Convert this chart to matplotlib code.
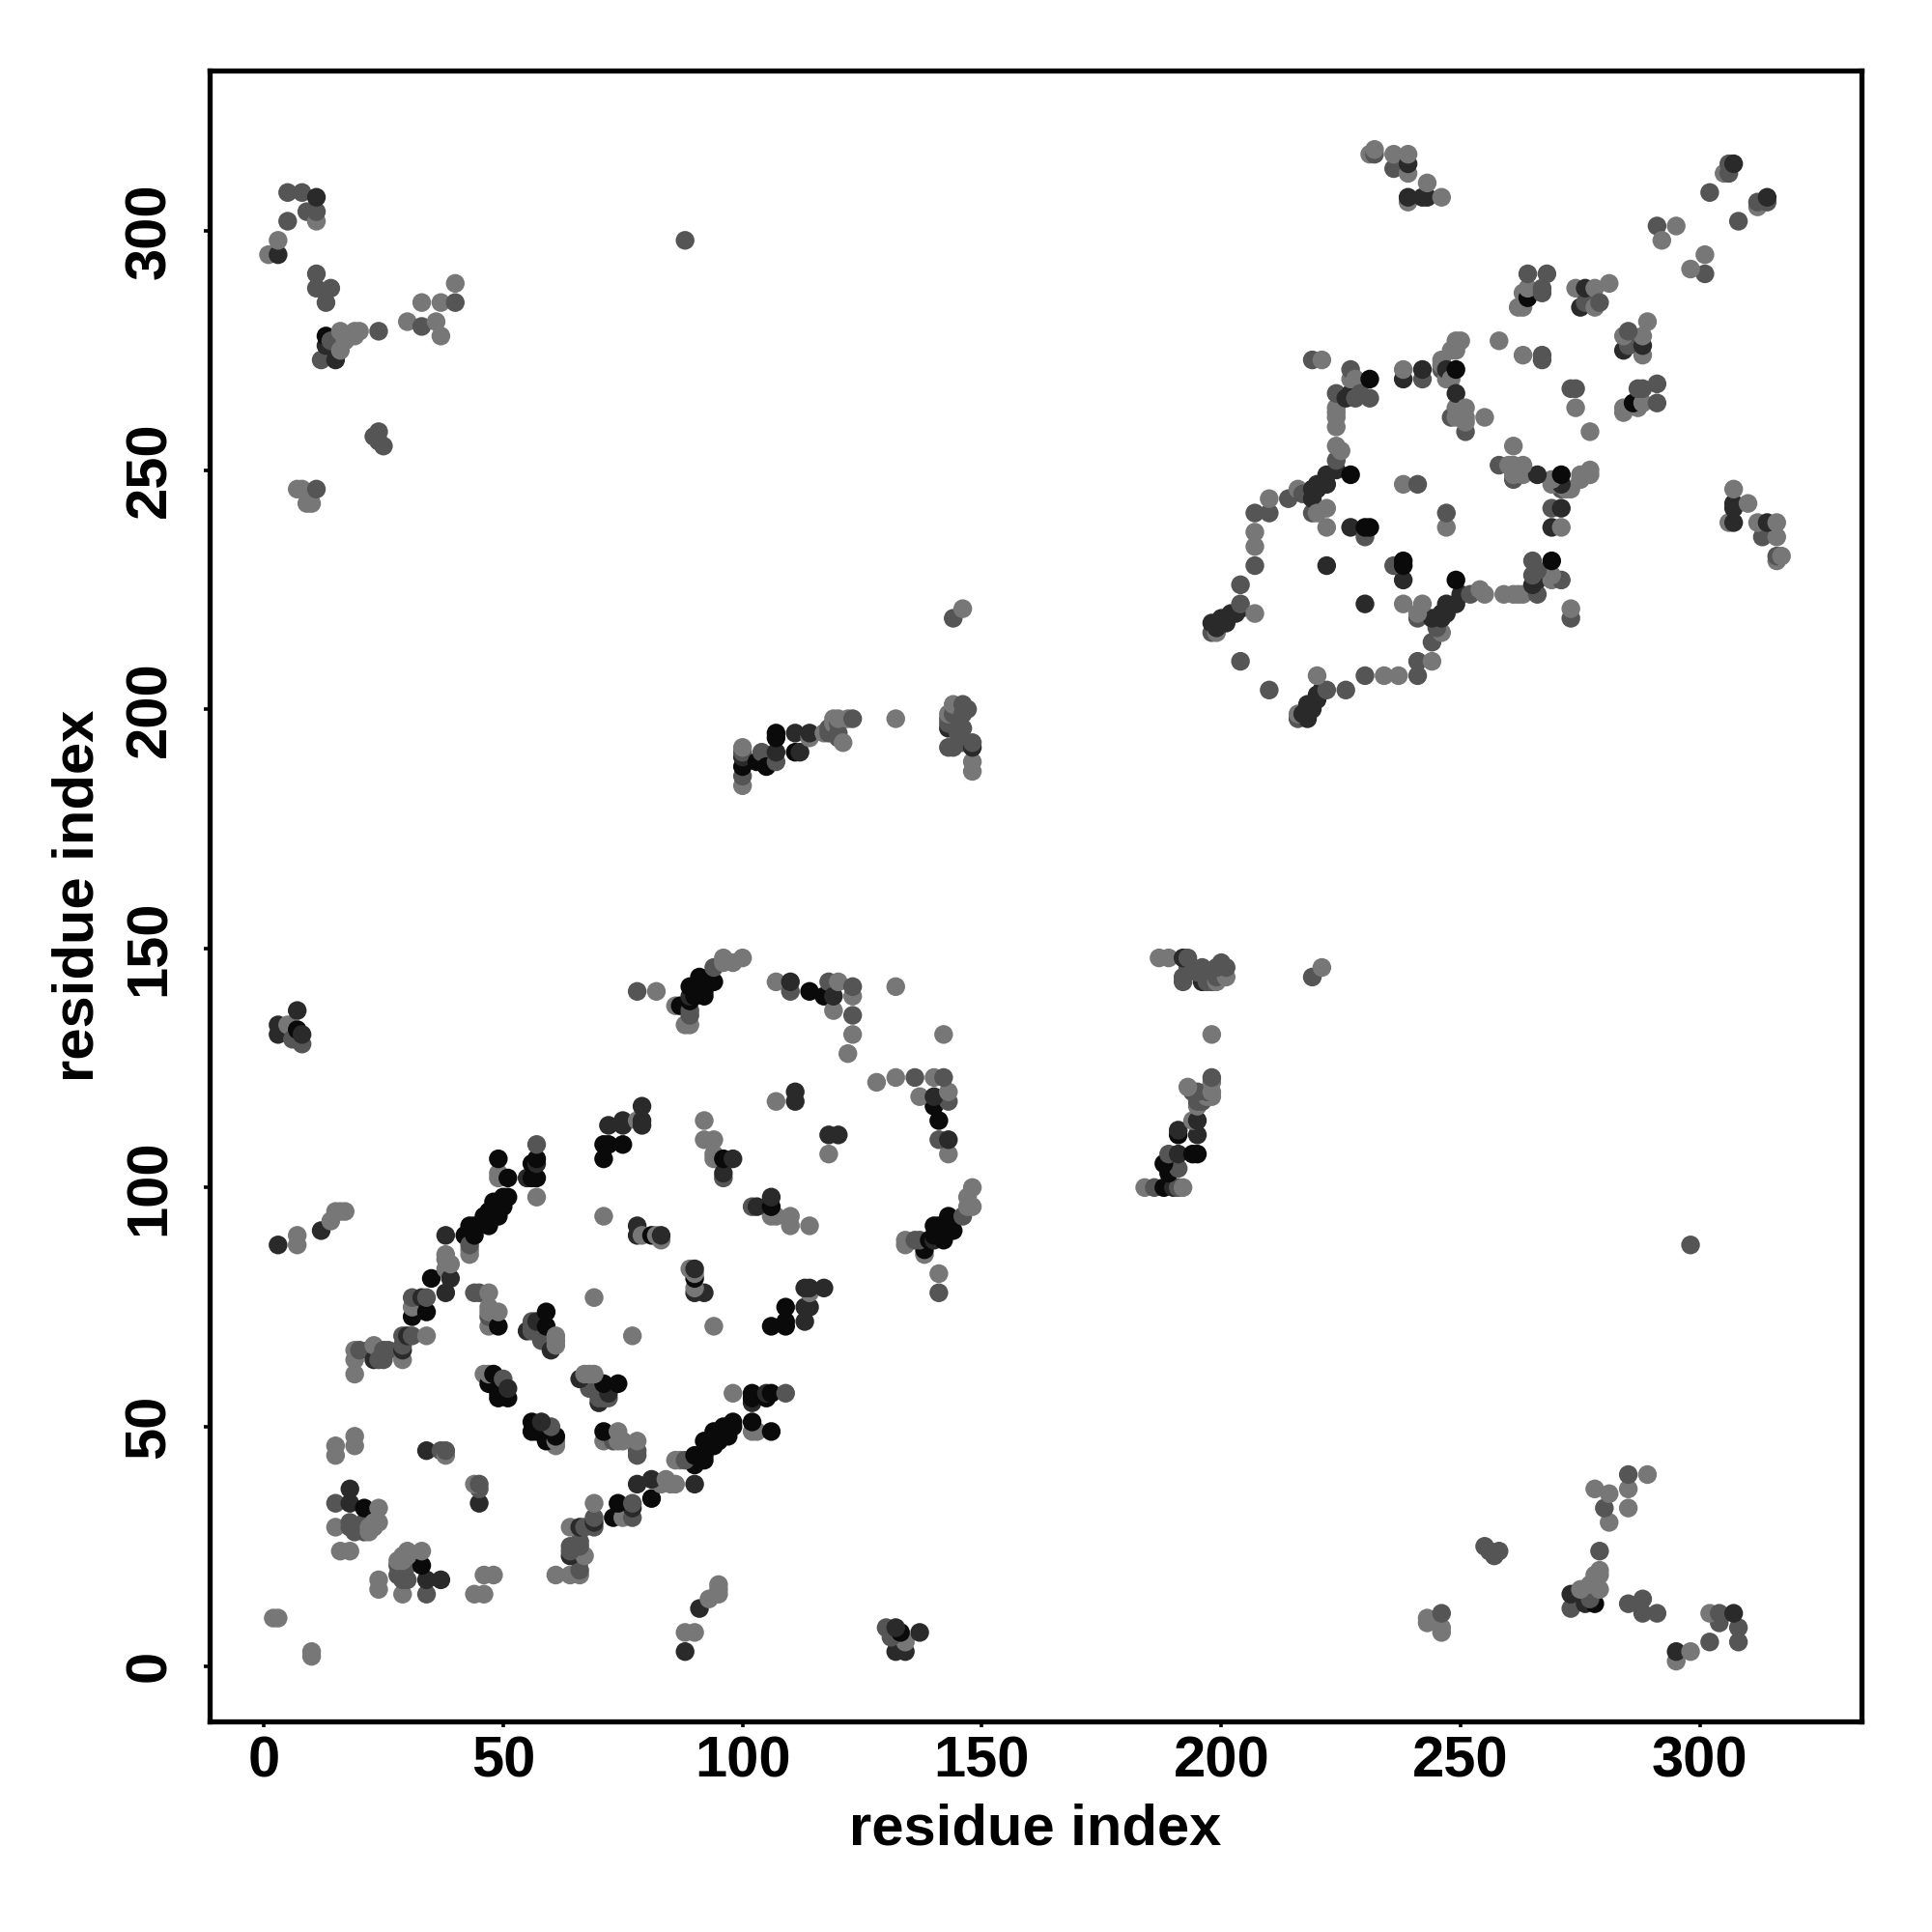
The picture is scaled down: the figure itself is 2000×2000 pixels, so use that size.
import matplotlib
matplotlib.use("Agg")
import matplotlib.pyplot as plt

plt.rcParams['font.family'] = ['Liberation Sans', 'DejaVu Sans']

# residue contacts (i, j), drawn on both sides of the diagonal, grouped by grey level
contacts_light = [
 (2,10),(3,10),(7,90),(7,88),(16,95),(17,95),(43,87),(38,85),(39,84),(31,75),(34,69),(29,64),(19,66),(19,64),(23,67),
 (47,78),(47,74),(49,74),(47,71),(61,68),(61,67),(47,61),(61,68),(61,69),(46,61),(49,74),(47,75),(47,78),(19,48),(15,46),(19,46),(15,44),
 (38,44),(24,33),(15,29),(22,29),(24,30),(16,24),(18,24),(18,24),(23,30),(24,33),(15,29),(15,44),(19,46),(19,48),(19,61),(19,64),(19,46),(19,48),
 (38,83),(38,86),(43,86),(49,103),(83,89),(71,94),(69,77),(71,94),(90,82),(92,114),(92,110),(94,106),(94,107),(92,114),(57,98),(49,102),
 (82,141),(86,138),(89,134),(96,148),(98,147),(100,148),(107,143),(120,143),(123,140),(119,137),(122,128),(128,122),(140,123),(137,119),(143,120),(143,107),
 (118,107),(110,94),(92,114),(114,78),(90,79),(141,82),(134,88),(138,86),(147,96),(148,96),(148,100),(103,49),
 (100,192),(100,184),(114,194),(117,195),(119,198),(121,193),(132,198),(143,199),(148,189),(148,187),(144,201),(146,221),(132,142),(123,132),
 (100,192),(148,189),(5,134),(88,7),(93,14),(95,15),(95,17),(120,198),(119,197),(122,198),
 (1,295),(3,298),(11,302),(16,275),(17,277),(19,279),(20,279),(16,279),(30,281),(33,285),(36,281),(37,278),(37,285),(40,289),(18,278),(17,278),(19,278),
 (7,246),(8,246),(9,243),(10,243),(22,28),(23,29),
 (199,216),(207,220),(207,234),(207,237),(210,244),(220,241),(222,242),(222,238),(225,254),(224,255),(224,259),(224,262),(224,263),
 (238,222),(242,222),(254,225),(255,224),(259,224),(261,224),(263,224),(269,227),(273,221),(246,216),(244,210),(237,207),(234,207),(220,207),
 (271,238),(261,255),(260,251),(269,248),(273,246),(275,249),(277,250),(247,238),
 (307,246),(310,243),(306,239),(312,239),(316,239),(316,236),(317,232),
 (221,273),(228,269),(238,271),(246,272),(248,275),(249,277),(247,269),(249,263),(251,263),(249,261),(251,261),(255,261),
 (258,277),(263,274),(274,263),(277,258),(264,288),(263,284),(262,284),(274,288),(278,288),(281,289),(278,284),
 (289,281),(288,278),(288,274),(287,263),(284,263),(284,262),(231,316),(239,312),(239,306),(305,312),(295,301),(298,292),
]
contacts_mid = [
 (14,93),(43,88),(57,109),(29,69),(31,69),(29,67),(19,61),(20,66),(25,66),(45,78),(47,73),(56,71),(56,70),
 (50,60),(68,58),(72,56),(71,47),(78,44),(37,45),(38,45),(45,38),(15,34),(18,29),(21,30),(24,16),(30,21),(30,18),(34,15),(46,15),
 (66,19),(64,24),(66,26),(66,22),(64,25),(69,29),(77,31),(77,34),(98,57),(20,29),(19,28),(21,28),
 (78,141),(89,136),(94,146),(110,141),(118,143),(123,142),(123,136),(142,132),(132,123),(136,123),(142,123),(143,118),
 (107,118),(96,102),(102,96),(110,92),(141,78),(134,89),(137,89),(146,94),(118,196),
 (100,186),(104,191),(107,189),(118,195),(120,197),(120,195),(143,197),(144,192),(144,199),(146,201),(145,195),(147,200),(146,193),(144,219),
 (146,196),(143,198),(146,199),(148,193),(143,192),(186,100),(191,100),(194,120),(198,123),
 (8,130),(6,131),(90,7),(14,277),(15,277),
 (5,302),(5,308),(8,308),(9,304),(11,304),(11,291),(11,288),(14,288),(13,285),(12,273),(24,279),(33,280),(40,285),
 (24,256),(24,258),(25,255),(23,257),(11,246),(88,298),
 (216,198),(204,222),(204,226),(207,230),(207,241),(210,241),(214,244),(217,245),(224,266),(230,236),
 (238,247),(241,247),(247,241),(241,219),(252,224),(266,224),(271,227),(265,231),(266,229),(273,219),
 (244,214),(241,210),(241,207),(230,207),(226,204),(210,204),(204,210),
 (269,242),(258,251),(263,251),(261,248),(263,249),(271,246),(313,236),(316,231),
 (227,271),(228,265),(231,265),(242,269),(251,258),(267,274),(267,273),(274,267),
 (264,291),(268,291),(267,288),(276,285),(279,285),(285,279),(284,278),(287,267),(291,268),(291,264),
 (291,301),(301,291),(301,295),(302,308),(306,314),(312,306),(232,316),(236,316),(236,313),(239,316),(243,310),(246,307),
]
contacts_dark = [
 (3,88),(12,91),(38,90),(39,81),(38,78),(31,77),(33,77),(25,64),(23,64),(60,66),(51,58),(60,50),(66,60),(70,55),(72,57),
 (34,45),(45,34),(18,37),(18,34),(28,21),(28,19),(37,18),(66,29),(69,30),(81,39),(90,38),(90,82),(83,90),(78,90),
 (86,138),(89,140),(110,143),(119,140),(111,120),(111,118),(120,111),(141,110),(143,110),
 (94,110),(98,106),(96,103),(106,98),(103,96),(110,94),(92,78),(113,72),(114,75),(113,79),(114,79),(117,79),
 (79,117),(79,113),(72,113),(75,113),(105,57),(109,57),(102,55),(96,102),
 (90,78),(100,190),(107,191),(111,195),(112,191),(114,195),(123,198),(148,192),(143,196),(193,148),(196,143),(191,107),
 (7,137),(3,134),(3,132),(8,132),(91,12),(88,3),(13,276),
 (3,295),(11,307),(15,273),(14,276),(198,218),(200,219),(202,220),(219,246),(220,247),(222,249),(224,250),
 (222,230),(238,227),(230,222),(244,219),(246,220),(247,222),(250,224),(266,227),(227,238),(271,242),(269,238),
 (218,201),(217,199),(221,204),(220,203),(266,249),(307,243),(307,239),(314,239),
 (219,273),(226,265),(238,269),(242,271),(247,271),(249,266),(288,276),(284,275),
 (239,314),(242,307),(308,302),(314,307),(307,314),
]
contacts_black = [
 (49,106),(57,106),(56,105),(57,102),(56,102),(51,102),(51,98),(50,97),(48,97),(47,95),(46,94),(44,92),(43,92),(42,90),
 (35,81),(31,73),(34,74),(49,71),(59,74),(59,71),(48,61),(47,59),(49,56),(51,56),(71,59),(74,59),
 (57,50),(57,49),(61,48),(59,47),(71,49),(21,33),(33,21),(34,18),(73,31),(74,34),(81,35),(78,38),
 (90,44),(92,44),(92,47),(94,47),(94,49),(98,50),(96,50),(102,51),(106,49),(102,57),(106,57),
 (90,81),(78,92),(72,109),(75,109),(71,106),(96,106),
 (86,138),(91,141),(91,144),(94,143),(92,140),(114,141),(117,140),(140,119),(140,117),(141,114),(118,111),
 (106,94),(106,71),(109,71),(109,75),(138,87),(140,90),(141,92),(143,93),(143,91),(142,89),(139,89),
 (100,188),(105,188),(107,195),(7,133),(13,278),(189,103),(191,111),(194,107),(195,111),
 (227,249),(230,238),(231,238),(238,231),(238,230),(249,227),(269,231),(271,249),(231,269),(249,271),(264,286),(239,307),
]
group_colors = ['#777777', '#555555', '#2a2a2a', '#0a0a0a']
tick_values = [0, 50, 100, 150, 200, 250, 300]
axis_label = 'residue index'

seen = {}
for contacts, color in zip([contacts_light, contacts_mid, contacts_dark, contacts_black], group_colors):
    for a, b in contacts:
        key = (min(a, b), max(a, b))
        seen.setdefault(key, color)
ordered = sorted(seen)
xs = [k[0] for k in ordered] + [k[1] for k in ordered]
ys = [k[1] for k in ordered] + [k[0] for k in ordered]
cs = [seen[k] for k in ordered] * 2

fig = plt.figure(figsize=(20, 20), dpi=100)
ax = fig.add_axes([217/2000, 218/2000, (1927-217)/2000, (1782-73)/2000])
ax.scatter(xs, ys, s=195, c=cs, linewidths=0, zorder=3)
ax.set_xlim(-11.3, 333.7)
ax.set_ylim(-11.6, 333.5)
ax.set_xticks(tick_values)
ax.set_yticks(tick_values)
ax.tick_params(axis='x', length=4.5, width=2.6, labelsize=43, pad=6)
ax.tick_params(axis='y', length=4.5, width=2.6, labelsize=43, pad=20)
for t in ax.get_xticklabels():
    t.set_fontweight('bold')
for t in ax.get_yticklabels():
    t.set_fontweight('bold')
    t.set_rotation(90)
    t.set_va('center')
for s in ax.spines.values():
    s.set_linewidth(3.8)
ax.set_xlabel(axis_label, fontsize=43, fontweight='bold', va='center')
ax.set_ylabel(axis_label, fontsize=43, fontweight='bold', va='center')
ax.xaxis.set_label_coords(0.5, -(1894-1782)/1709)
ax.yaxis.set_label_coords(-(217-81)/1710, 0.5)
fig.savefig('out.png', dpi=100, facecolor='white')
